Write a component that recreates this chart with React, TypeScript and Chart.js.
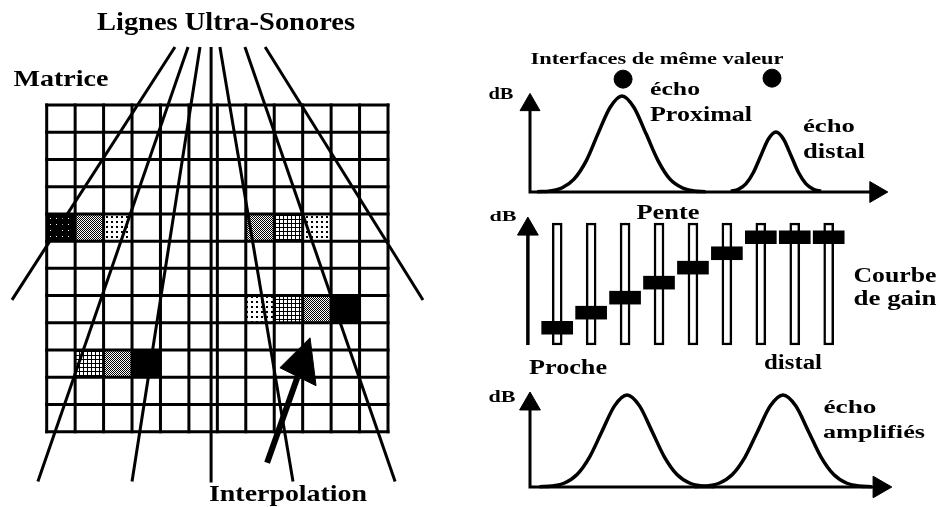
import React, { useEffect, useRef } from 'react';
import { Chart, registerables } from 'chart.js';

Chart.register(...registerables);

// ---------------- Left matrix (units: cell columns / cell rows) ----------------
const matrixColumns = 12;
const matrixRows = 12;
const shadedCellCol = [0, 1, 2, 7, 8, 9, 7, 8, 9, 10, 1, 2, 3];
const shadedCellRow = [4, 4, 4, 4, 4, 4, 7, 7, 7, 7, 9, 9, 9];
const shadedCellLevel = [4, 2, 0, 2, 1, 0, 0, 1, 2, 3, 1, 2, 3];

const beamStartX = [4.51, 4.97, 5.39, 5.78, 6.09, 6.97, 7.68];
const beamStartY = [-2.13, -2.13, -2.13, -2.13, -2.13, -2.13, -2.13];
const beamEndX = [-1.22, -0.31, 3.0, 5.78, 8.66, 12.25, 13.23];
const beamEndY = [7.16, 13.83, 13.83, 13.87, 13.83, 13.83, 7.16];

const interpShaftX = [7.75, 8.85];
const interpShaftY = [13.14, 9.9];
const interpHeadX = [9.26, 8.2, 9.47, 9.26];
const interpHeadY = [8.55, 9.65, 10.31, 8.55];

// ---------------- Top right: echoes before gain (x: depth 0..100, y: dB 0..100) ----------------
const echoProxX = [2, 5.6, 9, 12.3, 15.7, 19, 22.4, 25.7, 29, 32.4, 35.8, 39.1, 42.5, 45.8, 49];
const echoProxDb = [0.2, 1.1, 4.3, 13, 31.5, 59, 85.6, 97, 85.6, 59, 31.5, 13, 4.3, 1.1, 0.2];
const echoDistX = [56.1, 58.2, 60.3, 62.4, 64.5, 66.6, 68.7, 70.8, 72.9, 75, 77.1, 79.2, 81.3];
const echoDistDb = [0.7, 2.7, 8.2, 19.7, 36.8, 53.5, 60.6, 53.5, 36.8, 19.7, 8.2, 2.7, 0.7];
const interfaceX = [26, 67.6];
const interfaceY = [114, 115];
const topAxisX = [0, 0, 96.6];
const topAxisY = [88, 0, 0];

// ---------------- Middle right: gain sliders ----------------
const gainChannels = [1, 2, 3, 4, 5, 6, 7, 8, 9];
const gainLevels = [14.2, 26.5, 38.8, 51.1, 63.4, 75.2, 88.3, 88.3, 88.3];
const sliderHalfHeight = 5.3;
const slotRange = [0, 100];
const midAxisX = [0.136, 0.136];
const midAxisY = [0, 95];

// ---------------- Bottom right: amplified echoes ----------------
const ampProxX = [2.65, 6.1, 9.55, 13, 16.45, 19.9, 23.35, 26.8, 30.25, 33.7, 37.15, 40.6, 44.05, 47.5, 50.95];
const ampProxDb = [0.2, 1.1, 4.2, 13.1, 31.5, 58.7, 85.4, 96.8, 85.4, 58.7, 31.5, 13.1, 4.2, 1.1, 0.2];
const ampDistX = [45.4, 48.9, 52.4, 55.9, 59.4, 62.9, 66.4, 69.9, 73.4, 76.9, 80.4, 83.9, 87.4, 90.9, 94.4];
const ampDistDb = [0.2, 1.1, 4.2, 13.1, 31.5, 58.7, 85.4, 96.8, 85.4, 58.7, 31.5, 13.1, 4.2, 1.1, 0.2];
const botAxisX = [0, 0, 96.5];
const botAxisY = [87.4, 0, 0];

// ---------------- layout (pixel frames) ----------------
type Frame = {
  left: number; top: number; width: number; height: number;
  x0px: number; x0: number; x1px: number; x1: number;
  y0px: number; y0: number; y1px: number; y1: number;
};

const matrixFrame: Frame = { left: 0, top: 0, width: 470, height: 507, x0px: 46.7, x0: 0, x1px: 388, x1: 12, y0px: 105, y0: 0, y1px: 431.7, y1: 12 };
const topFrame: Frame = { left: 470, top: 0, width: 470, height: 210, x0px: 530, x0: 0, x1px: 888, x1: 100, y0px: 192, y0: 0, y1px: 93, y1: 100 };
const midFrame: Frame = { left: 470, top: 200, width: 470, height: 160, x0px: 557.2, x0: 1, x1px: 828.7, x1: 9, y0px: 345, y0: 0, y1px: 223, y1: 100 };
const botFrame: Frame = { left: 470, top: 355, width: 470, height: 152, x0px: 530, x0: 0, x1px: 892, x1: 100, y0px: 487, y0: 0, y1px: 392, y1: 100 };

const labels = [
  { text: 'Lignes Ultra-Sonores', cx: 226, cy: 22, size: 26, w: 258 },
  { text: 'Matrice', cx: 61, cy: 78, size: 24, w: 95 },
  { text: 'Interpolation', cx: 287.5, cy: 493, size: 24, w: 158 },
  { text: 'Interfaces de même valeur', cx: 656.5, cy: 57.5, size: 17, w: 253 },
  { text: 'écho', cx: 675, cy: 89, size: 18, w: 50 },
  { text: 'Proximal', cx: 701, cy: 113.5, size: 21, w: 102 },
  { text: 'écho', cx: 829, cy: 126, size: 18, w: 52 },
  { text: 'distal', cx: 834, cy: 151, size: 20, w: 62 },
  { text: 'dB', cx: 501, cy: 94, size: 16, w: 25 },
  { text: 'dB', cx: 503, cy: 216, size: 15, w: 27 },
  { text: 'Pente', cx: 668, cy: 212, size: 20, w: 63 },
  { text: 'Courbe', cx: 895, cy: 275, size: 20, w: 83 },
  { text: 'de gain', cx: 895, cy: 298, size: 20, w: 83 },
  { text: 'Proche', cx: 567.5, cy: 367, size: 20, w: 78 },
  { text: 'distal', cx: 792.5, cy: 362, size: 20, w: 58 },
  { text: 'dB', cx: 502, cy: 397, size: 16, w: 27 },
  { text: 'écho', cx: 850, cy: 407, size: 18, w: 53 },
  { text: 'amplifiés', cx: 874, cy: 431.5, size: 18, w: 102 },
];

const FONT = '"Liberation Serif", "DejaVu Serif", serif';

function frameScales(f: Frame): any {
  const xPerPx = (f.x1 - f.x0) / (f.x1px - f.x0px);
  const xMin = f.x0 + (f.left - f.x0px) * xPerPx;
  const xMax = f.x0 + (f.left + f.width - f.x0px) * xPerPx;
  const yPerPx = (f.y1 - f.y0) / (f.y1px - f.y0px);
  const yTop = f.y0 + (f.top - f.y0px) * yPerPx;
  const yBottom = f.y0 + (f.top + f.height - f.y0px) * yPerPx;
  const reverse = yTop < yBottom;
  return {
    x: { type: 'linear', display: false, min: xMin, max: xMax, offset: false, grid: { display: false } },
    y: { type: 'linear', display: false, min: Math.min(yTop, yBottom), max: Math.max(yTop, yBottom), reverse, grid: { display: false } },
  };
}

function pts(xs: number[], ys: number[]) {
  return xs.map((x, i) => ({ x, y: ys[i] }));
}

function lineDs(xs: number[], ys: number[], extra: any = {}) {
  return {
    type: 'line',
    data: pts(xs, ys),
    pointRadius: 0,
    borderColor: '#000',
    borderWidth: 3,
    fill: false,
    tension: 0,
    borderCapStyle: 'butt',
    order: 1,
    ...extra,
  };
}

function headDs(x: number, y: number, radius: number, rotation: number) {
  return {
    type: 'line',
    data: [{ x, y }],
    showLine: false,
    pointStyle: 'triangle',
    pointRadius: radius,
    pointRotation: rotation,
    pointBackgroundColor: '#000',
    pointBorderColor: '#000',
    pointBorderWidth: 1,
    order: 0,
  };
}

function makePattern(level: number): any {
  if (level === 3) return '#000';
  const c = document.createElement('canvas');
  const g = c.getContext('2d')!;
  if (level === 0) {
    c.width = 5; c.height = 5;
    g.fillStyle = '#fff'; g.fillRect(0, 0, 5, 5);
    g.fillStyle = '#000'; g.fillRect(1, 1, 2, 2);
  } else if (level === 1) {
    c.width = 4; c.height = 4;
    g.fillStyle = '#000'; g.fillRect(0, 0, 4, 4);
    g.fillStyle = '#fff'; g.fillRect(0, 0, 3, 3);
  } else if (level === 2) {
    c.width = 2; c.height = 2;
    g.fillStyle = '#fff'; g.fillRect(0, 0, 2, 2);
    g.fillStyle = '#000'; g.fillRect(0, 0, 1, 1); g.fillRect(1, 1, 1, 1);
  } else {
    c.width = 6; c.height = 6;
    g.fillStyle = '#000'; g.fillRect(0, 0, 6, 6);
    g.fillStyle = '#fff'; g.fillRect(2, 2, 1, 1);
  }
  return g.createPattern(c, 'repeat');
}

function buildMatrix(): any {
  const datasets: any[] = [];
  shadedCellCol.forEach((c, i) => {
    const r = shadedCellRow[i];
    datasets.push(lineDs([c, c + 1, c + 1, c, c], [r, r, r + 1, r + 1, r], {
      fill: 'shape',
      backgroundColor: makePattern(shadedCellLevel[i]),
      borderColor: 'rgba(0,0,0,0)',
      borderWidth: 1,
      order: 5,
    }));
  });
  for (let c = 0; c <= matrixColumns; c++) {
    datasets.push(lineDs([c, c], [0, matrixRows], { borderWidth: 3, borderCapStyle: 'square', order: 3 }));
  }
  for (let r = 0; r <= matrixRows; r++) {
    datasets.push(lineDs([0, matrixColumns], [r, r], { borderWidth: 3, borderCapStyle: 'square', order: 3 }));
  }
  beamStartX.forEach((x, i) => {
    datasets.push(lineDs([x, beamEndX[i]], [beamStartY[i], beamEndY[i]], { borderWidth: 3, order: 2 }));
  });
  datasets.push(lineDs(interpShaftX, interpShaftY, { borderWidth: 6, order: 0 }));
  datasets.push(lineDs(interpHeadX, interpHeadY, { fill: 'shape', backgroundColor: '#000', borderWidth: 1, order: 0 }));
  return { type: 'line', data: { datasets } };
}

function buildTop(): any {
  return {
    type: 'line',
    data: {
      datasets: [
        lineDs(echoProxX, echoProxDb, { borderWidth: 3.5, cubicInterpolationMode: 'monotone' }),
        lineDs(echoDistX, echoDistDb, { borderWidth: 3.5, cubicInterpolationMode: 'monotone' }),
        lineDs(topAxisX, topAxisY, { borderWidth: 3, borderJoinStyle: 'miter' }),
        headDs(topAxisX[0], topAxisY[0], 11.5, 0),
        headDs(topAxisX[2], topAxisY[2], 12, 90),
        {
          type: 'line',
          data: pts(interfaceX, interfaceY),
          showLine: false,
          pointStyle: 'circle',
          pointRadius: 9,
          pointBackgroundColor: '#000',
          pointBorderColor: '#000',
          order: 0,
        },
      ],
    },
  };
}

function buildMid(): any {
  return {
    type: 'bar',
    data: {
      datasets: [
        {
          type: 'bar',
          data: gainChannels.map((x, i) => ({ x, y: [gainLevels[i] - sliderHalfHeight, gainLevels[i] + sliderHalfHeight] })),
          backgroundColor: '#000',
          borderWidth: 0,
          barThickness: 31,
          grouped: false,
          order: 0,
        },
        {
          type: 'bar',
          data: gainChannels.map((x) => ({ x, y: [slotRange[0], slotRange[1]] })),
          backgroundColor: '#fff',
          borderColor: '#000',
          borderWidth: 2.5,
          borderSkipped: false,
          barThickness: 10,
          grouped: false,
          order: 1,
        },
        lineDs(midAxisX, midAxisY, { borderWidth: 3.5 }),
        headDs(midAxisX[1], midAxisY[1], 12, 0),
      ],
    },
  };
}

function buildBot(): any {
  return {
    type: 'line',
    data: {
      datasets: [
        lineDs(ampProxX, ampProxDb, { borderWidth: 3.5, cubicInterpolationMode: 'monotone' }),
        lineDs(ampDistX, ampDistDb, { borderWidth: 3.5, cubicInterpolationMode: 'monotone' }),
        lineDs(botAxisX, botAxisY, { borderWidth: 3, borderJoinStyle: 'miter' }),
        headDs(botAxisX[0], botAxisY[0], 12, 0),
        headDs(botAxisX[2], botAxisY[2], 12.5, 90),
      ],
    },
  };
}

function PanelChart({ frame, build }: { frame: Frame; build: () => any }) {
  const ref = useRef<HTMLCanvasElement | null>(null);
  useEffect(() => {
    const cfg = build();
    const chart = new Chart(ref.current as HTMLCanvasElement, {
      ...cfg,
      options: {
        animation: false,
        responsive: false,
        maintainAspectRatio: false,
        events: [],
        layout: { padding: 0, autoPadding: false },
        plugins: { legend: { display: false }, tooltip: { enabled: false }, title: { display: false } },
        scales: frameScales(frame),
      },
    } as any);
    return () => chart.destroy();
  }, []);
  return (
    <canvas
      ref={ref}
      width={frame.width}
      height={frame.height}
      style={{ position: 'absolute', left: frame.left, top: frame.top, width: frame.width, height: frame.height }}
    />
  );
}

let measureCtx: CanvasRenderingContext2D | null = null;
function textScale(text: string, size: number, target: number) {
  if (!measureCtx) measureCtx = document.createElement('canvas').getContext('2d');
  if (!measureCtx) return 1;
  measureCtx.font = `bold ${size}px ${FONT}`;
  const w = measureCtx.measureText(text).width;
  return w > 0 ? target / w : 1;
}

export default function App() {
  return (
    <div style={{ position: 'fixed', left: 0, top: 0, width: 940, height: 507, overflow: 'hidden', background: '#fff' }}>
      <PanelChart frame={matrixFrame} build={buildMatrix} />
      <PanelChart frame={topFrame} build={buildTop} />
      <PanelChart frame={midFrame} build={buildMid} />
      <PanelChart frame={botFrame} build={buildBot} />
      {labels.map((l, i) => (
        <div
          key={i}
          style={{
            position: 'absolute',
            left: l.cx,
            top: l.cy,
            transform: `translate(-50%, -50%) scaleX(${textScale(l.text, l.size, l.w)})`,
            fontFamily: FONT,
            fontWeight: 'bold',
            fontSize: l.size,
            lineHeight: 1,
            whiteSpace: 'nowrap',
            color: '#000',
          }}
        >
          {l.text}
        </div>
      ))}
    </div>
  );
}
